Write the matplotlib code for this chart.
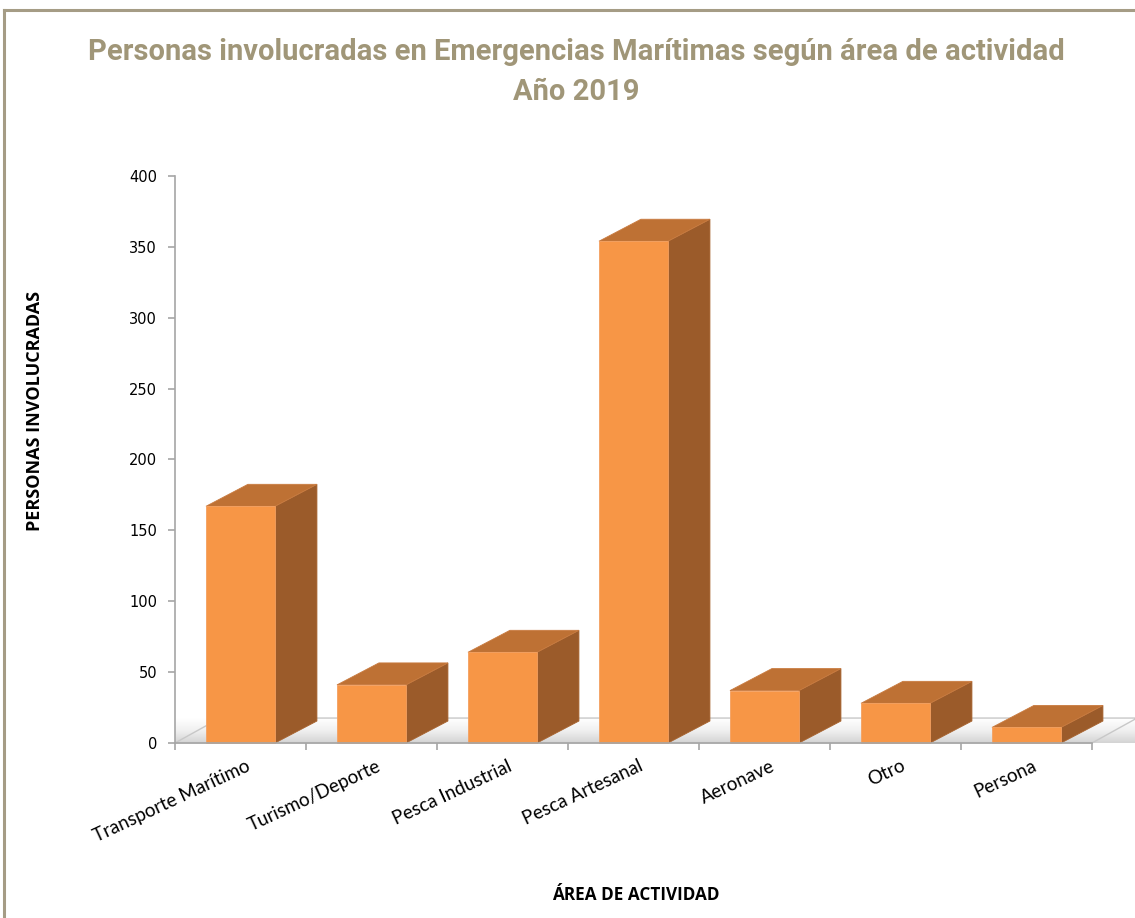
import numpy as np
import matplotlib
matplotlib.use("Agg")
import matplotlib.pyplot as plt
from matplotlib.patches import Polygon
from matplotlib.lines import Line2D
from matplotlib.colors import LinearSegmentedColormap

categories = ["Transporte Marítimo", "Turismo/Deporte", "Pesca Industrial",
              "Pesca Artesanal", "Aeronave", "Otro", "Persona"]
values = [167, 41, 64, 354, 37, 28, 11]
yticks = [0, 50, 100, 150, 200, 250, 300, 350, 400]
title_l1 = "Personas involucradas en Emergencias Marítimas según área de actividad"
title_l2 = "Año 2019"
ylabel = "PERSONAS INVOLUCRADAS"
xlabel = "ÁREA DE ACTIVIDAD"

W, H = 1135, 918
fig = plt.figure(figsize=(W / 100, H / 100), dpi=100)
fig.patch.set_facecolor("white")

# frame around chart area
border_c = "#A59C85"
fig.add_artist(Line2D([4 / W, 1.0], [1 - 10 / H, 1 - 10 / H], color=border_c, lw=2.2))
fig.add_artist(Line2D([4 / W, 4 / W], [0, 1 - 10 / H], color=border_c, lw=2.2))

ax = fig.add_axes([175 / W, 175 / H, 917 / W, 567 / H])
n = len(categories)

front_c = "#F79646"
top_c = "#BE7134"
side_c = "#9B5B2A"

bw = 0.527
dx, dy = 0.32, 15.5
fdx, fdy = 0.344, 17.6

# floor with gradient
floor = Polygon([(0, 0), (n, 0), (n + fdx, fdy), (fdx, fdy)], closed=True,
                facecolor="none", edgecolor="#C8C8C8", lw=1.0, clip_on=False, zorder=1)
ax.add_patch(floor)
grad = np.tile(np.linspace(0, 1, 64).reshape(-1, 1), (1, 2))
cmap = LinearSegmentedColormap.from_list("fl", ["#FFFFFF", "#F0F0F0", "#D4D4D4"])
im = ax.imshow(grad, extent=(0, n + fdx, 0, fdy), origin="upper", cmap=cmap,
               aspect="auto", zorder=0.9, clip_on=False, interpolation="bilinear")
im.set_clip_path(floor)
ax.set_xlim(0, n)
ax.set_ylim(0, 400)

for i, v in enumerate(values):
    c = i + 0.5
    x0, x1 = c - bw / 2, c + bw / 2
    side = Polygon([(x1, 0), (x1 + dx, dy), (x1 + dx, v + dy), (x1, v)],
                   closed=True, facecolor=side_c, edgecolor="#A8642F", lw=0.6,
                   clip_on=False, zorder=3)
    top = Polygon([(x0, v), (x1, v), (x1 + dx, v + dy), (x0 + dx, v + dy)],
                  closed=True, facecolor=top_c, edgecolor="#C97B40", lw=0.6,
                  clip_on=False, zorder=3)
    ax.add_patch(side)
    ax.add_patch(top)
    ax.bar(c, v, width=bw, color=front_c, edgecolor="#F4A060", lw=0.6, zorder=4,
           clip_on=False)

for s in ["top", "right", "bottom"]:
    ax.spines[s].set_visible(False)
ax.spines["left"].set_color("#A6A6A6")
ax.spines["left"].set_linewidth(1.2)
ax.axhline(0, color="#A6A6A6", lw=1.2, zorder=5, clip_on=False)
ax.patch.set_alpha(0)

ax.set_yticks(yticks)
ax.set_yticklabels([str(t) for t in yticks], fontsize=10.5, family="DejaVu Sans",
                   color="#000000")
ax.tick_params(axis="y", direction="out", length=5, color="#A6A6A6", width=1.2, pad=8)
ax.set_xticks(range(n + 1))
ax.set_xticklabels([])
ax.tick_params(axis="x", direction="out", length=5, color="#A6A6A6", width=1.2)

for i, lab in enumerate(categories):
    ax.text(i + 0.5 + 0.04, -10, lab, rotation=25, ha="right", va="top",
            rotation_mode="anchor", fontsize=13.5, family="Lato", color="#000000")

fig.text(35 / W, 1 - 411 / H, ylabel, rotation=90, ha="center", va="center",
         fontsize=13, fontweight="bold", family="Open Sans", color="#000000")
fig.text(636 / W, 1 - 895 / H, xlabel, ha="center", va="center",
         fontsize=12.3, fontweight="bold", family="Open Sans", color="#000000")

fig.text(576 / W, 1 - 52 / H, title_l1,
         ha="center", va="center", fontsize=21, fontweight="bold", family="Roboto",
         color="#A09678")
fig.text(576 / W, 1 - 92 / H, title_l2,
         ha="center", va="center", fontsize=21, fontweight="bold", family="Roboto",
         color="#A09678")

fig.savefig("out.png", dpi=100, facecolor="white")
